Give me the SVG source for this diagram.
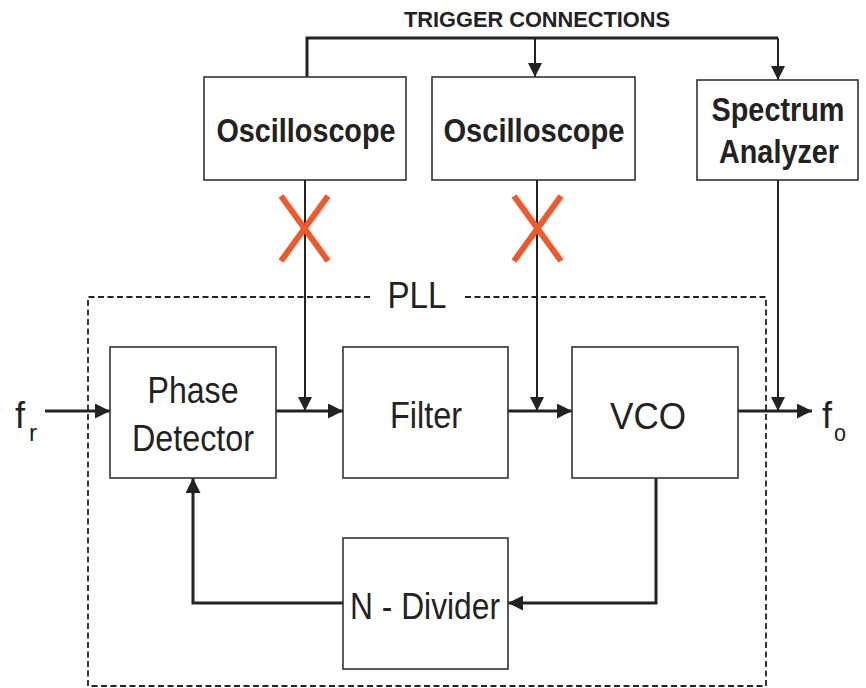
<svg xmlns="http://www.w3.org/2000/svg" width="866" height="688" viewBox="0 0 866 688">
<style>
.box{fill:#fff;stroke:#333;stroke-width:1.6}
.lbl{font-family:"Liberation Sans",Arial,sans-serif;font-size:36px;fill:#222;text-anchor:middle}
.blbl{font-family:"Liberation Sans",Arial,sans-serif;font-size:34px;font-weight:bold;fill:#222;text-anchor:middle}
.sym{font-family:"Liberation Sans",Arial,sans-serif;fill:#222}
.thick{fill:none;stroke:#222;stroke-width:3}
.thin{fill:none;stroke:#222;stroke-width:2}
.x{stroke:#EE5A2E;stroke-width:6;fill:none}
</style>
<defs>
<marker id="ah" viewBox="0 0 10 10" refX="10" refY="5" markerWidth="5" markerHeight="5" markerUnits="strokeWidth" orient="auto"><path d="M0,0 L10,5 L0,10 z" fill="#222"/></marker>
<marker id="ahs" viewBox="0 0 10 10" refX="10" refY="5" markerWidth="7" markerHeight="7" markerUnits="strokeWidth" orient="auto"><path d="M0,0 L10,5 L0,10 z" fill="#222"/></marker>
</defs>
<g id="pll-boundary">
<path d="M370,297 L88,297 L88,686 L766,686 L766,297 L462,297" fill="none" stroke="#222" stroke-width="1.8" stroke-dasharray="6,3.5"/>
<text class="lbl" x="417" y="308" textLength="59" lengthAdjust="spacingAndGlyphs">PLL</text>
</g>
<g id="trigger-label">
<text x="537" y="27" class="sym" font-size="22" font-weight="bold" text-anchor="middle" textLength="266" lengthAdjust="spacingAndGlyphs">TRIGGER CONNECTIONS</text>
</g>
<g id="connectors">
<path class="thick" d="M307,77 L307,38 L778,38"/>
<path class="thin" d="M535,38 L535,77" marker-end="url(#ahs)"/>
<path class="thin" d="M778,38 L778,80" marker-end="url(#ahs)"/>
<path class="thin" d="M305,180 L305,411" marker-end="url(#ahs)"/>
<path class="thin" d="M537,180 L537,411" marker-end="url(#ahs)"/>
<path class="thin" d="M778,180 L778,411" marker-end="url(#ahs)"/>
<path class="thick" d="M45,411 L110,411" marker-end="url(#ah)"/>
<path class="thick" d="M276,411 L343,411" marker-end="url(#ah)"/>
<path class="thick" d="M508,411 L572,411" marker-end="url(#ah)"/>
<path class="thick" d="M738,411 L812,411" marker-end="url(#ah)"/>
<path class="thick" d="M656,478 L656,603 L508,603" marker-end="url(#ah)"/>
<path class="thick" d="M343,603 L193,603 L193,478" marker-end="url(#ah)"/>
<path class="x" d="M281,196 L328,261 M328,196 L281,261"/>
<path class="x" d="M514,196 L561,261 M561,196 L514,261"/>
</g>
<g id="osc1">
<rect class="box" x="204" y="77" width="202" height="103"/>
<text class="blbl" x="306" y="142" textLength="179" lengthAdjust="spacingAndGlyphs">Oscilloscope</text>
</g>
<g id="osc2">
<rect class="box" x="432" y="77" width="203" height="103"/>
<text class="blbl" x="534" y="142" textLength="181" lengthAdjust="spacingAndGlyphs">Oscilloscope</text>
</g>
<g id="spectrum">
<rect class="box" x="697" y="80" width="161" height="100"/>
<text class="blbl" x="778" y="121" font-size="30" textLength="133" lengthAdjust="spacingAndGlyphs">Spectrum</text>
<text class="blbl" x="779" y="163" font-size="30" textLength="120" lengthAdjust="spacingAndGlyphs">Analyzer</text>
</g>
<g id="phase-detector">
<rect class="box" x="110" y="347" width="166" height="131"/>
<text class="lbl" x="193" y="403" textLength="91" lengthAdjust="spacingAndGlyphs">Phase</text>
<text class="lbl" x="193" y="451" textLength="122" lengthAdjust="spacingAndGlyphs">Detector</text>
</g>
<g id="filter">
<rect class="box" x="343" y="347" width="165" height="131"/>
<text class="lbl" x="426" y="428" textLength="72" lengthAdjust="spacingAndGlyphs">Filter</text>
</g>
<g id="vco">
<rect class="box" x="572" y="347" width="166" height="131"/>
<text class="lbl" x="648" y="429" textLength="76" lengthAdjust="spacingAndGlyphs">VCO</text>
</g>
<g id="n-divider">
<rect class="box" x="343" y="538" width="165" height="131"/>
<text class="lbl" x="425" y="619" textLength="150" lengthAdjust="spacingAndGlyphs">N - Divider</text>
</g>
<g id="fr">
<text x="15" y="428" class="sym" font-size="36">f</text>
<text x="29" y="441" class="sym" font-size="24" textLength="8" lengthAdjust="spacingAndGlyphs">r</text>
</g>
<g id="fo">
<text x="822" y="428" class="sym" font-size="36">f</text>
<text x="834" y="441" class="sym" font-size="24" textLength="12" lengthAdjust="spacingAndGlyphs">o</text>
</g>
</svg>
